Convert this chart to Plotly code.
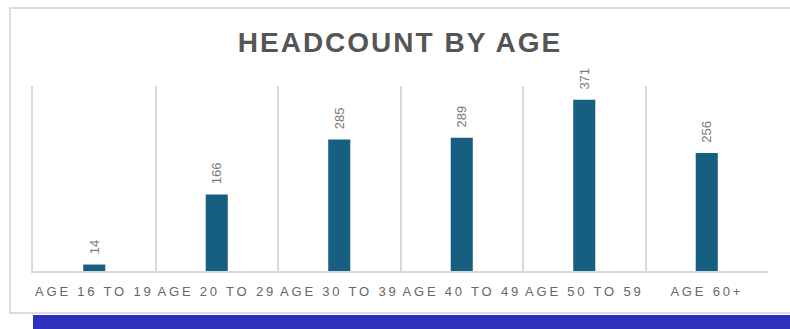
import plotly.graph_objects as go

categories = ["AGE 16 TO 19", "AGE 20 TO 29", "AGE 30 TO 39", "AGE 40 TO 49", "AGE 50 TO 59", "AGE 60+"]
headcount = [14, 166, 285, 289, 371, 256]
title_text = "HEADCOUNT BY AGE"

x_idx = list(range(len(categories)))
tick_text = ['<span style="letter-spacing:2.8px">' + c + '</span>' for c in categories]

fig = go.Figure()
fig.add_trace(go.Bar(
    x=x_idx, y=headcount,
    width=0.18,
    marker=dict(color="#175F81", line=dict(width=0)),
    text=headcount,
    texttemplate="\u00a0\u00a0%{text}",
    textposition="outside",
    textangle=-90,
    constraintext="none",
    cliponaxis=False,
    textfont=dict(family="Liberation Sans, Arial, sans-serif", size=13, color="#7a7a7a"),
    hoverinfo="skip",
))

fig.update_layout(
    width=790, height=329,
    margin=dict(l=33, r=22, t=86, b=58),
    paper_bgcolor="white", plot_bgcolor="white",
    showlegend=False,
    title=dict(text='<b><span style="letter-spacing:2px">' + title_text + '</span></b>',
               x=(233 + 567) / 2 / 790, xanchor="center", y=1 - 42 / 329, yanchor="middle",
               font=dict(family="Liberation Sans, Arial, sans-serif", size=28, color="#555555")),
    xaxis=dict(
        range=[-0.5, len(categories) - 0.5],
        tickmode="array", tickvals=x_idx, ticktext=tick_text,
        showgrid=False, zeroline=False,
        showline=True, linecolor="#d9d9d9", linewidth=2,
        ticks="", ticklabelstandoff=7,
        tickfont=dict(family="Liberation Sans, Arial, sans-serif", size=13, color="#666666"),
        minor=dict(showgrid=True, gridcolor="#d9d9d9", gridwidth=1.5, tickmode="linear", tick0=-0.5, dtick=1),
        fixedrange=True,
    ),
    yaxis=dict(
        range=[0, 401], showgrid=False, zeroline=False, showticklabels=False,
        showline=True, linecolor="#d9d9d9", linewidth=1.5, fixedrange=True,
    ),
    shapes=[
        dict(type="rect", xref="paper", yref="paper",
             x0=(10 - 33) / 735, x1=(800 - 33) / 735,
             y0=(271 - 313) / 185, y1=(271 - 8) / 185,
             line=dict(color="#dcdcdc", width=2), fillcolor="rgba(0,0,0,0)", layer="below"),
        dict(type="rect", xref="paper", yref="paper",
             x0=0, x1=(800 - 33) / 735,
             y0=(271 - 335) / 185, y1=(271 - 315) / 185,
             line=dict(width=0), fillcolor="#2F2FBD", layer="above"),
    ],
)

fig.write_html("out.html")
